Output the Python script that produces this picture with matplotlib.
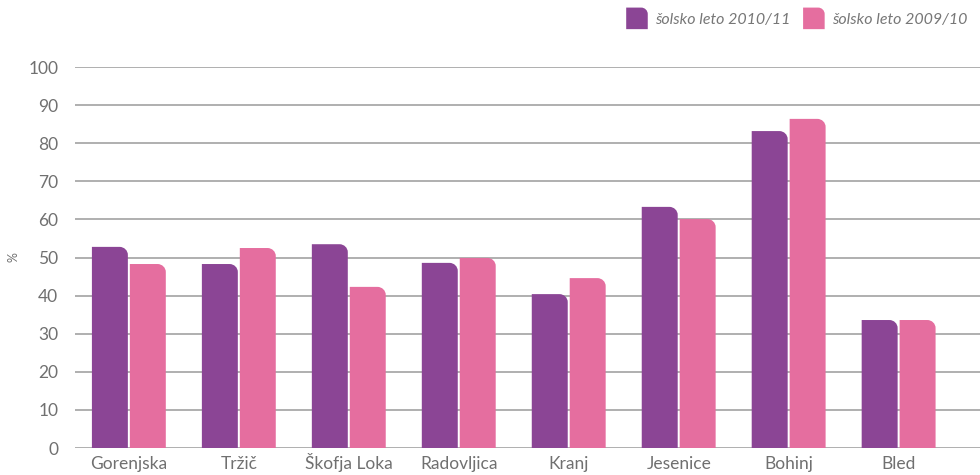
import matplotlib.pyplot as plt
import numpy as np
from matplotlib.path import Path
from matplotlib.patches import PathPatch, Patch
from matplotlib.legend_handler import HandlerPatch

plt.rcParams["font.family"] = ["Lato", "DejaVu Sans"]

categories = ["Gorenjska", "Tržič", "Škofja Loka", "Radovljica", "Kranj", "Jesenice", "Bohinj", "Bled"]
leto_2010 = [52.8, 48.3, 53.5, 48.6, 40.4, 63.3, 83.2, 33.6]
leto_2009 = [48.3, 52.5, 42.3, 49.9, 44.6, 60.1, 86.4, 33.6]
labels = ["šolsko leto 2010/11", "šolsko leto 2009/10"]
yticks = [0, 10, 20, 30, 40, 50, 60, 70, 80, 90, 100]

purple = "#8B4595"
pink = "#E56E9F"
gray_text = "#707070"


def rounded_top_right(x, y, w, h, rx, ry):
    # rectangle with only the top-right corner rounded
    rx = min(rx, w)
    ry = min(ry, h)
    k = 0.55
    verts = [
        (x, y), (x + w, y), (x + w, y + h - ry),
        (x + w, y + h - ry + k * ry), (x + w - rx + k * rx, y + h), (x + w - rx, y + h),
        (x, y + h), (x, y),
    ]
    codes = [Path.MOVETO, Path.LINETO, Path.LINETO,
             Path.CURVE4, Path.CURVE4, Path.CURVE4,
             Path.LINETO, Path.CLOSEPOLY]
    return Path(verts, codes)


class RoundedHandler(HandlerPatch):
    def create_artists(self, legend, orig_handle, xdescent, ydescent, width, height, fontsize, trans):
        s = width
        p = rounded_top_right(-xdescent, -ydescent + height / 2 - s / 2, s, s, s * 0.3, s * 0.3)
        patch = PathPatch(p, facecolor=orig_handle.get_facecolor(), edgecolor="none", transform=trans)
        return [patch]


fig = plt.figure(figsize=(9.8, 4.75), dpi=100)
ax = fig.add_axes([0.0765, 0.0568, 0.9235, 0.802])

x = np.arange(len(categories))
w = 0.327
gap = 0.009
bars1 = ax.bar(x - w / 2 - gap, leto_2010, w, color=purple)
bars2 = ax.bar(x + w / 2 + gap, leto_2009, w, color=pink)

ax.set_xlim(-0.49, 7.74)
ax.set_ylim(0, 100)

# replace plain rectangles with top-right rounded shapes
for bars in (bars1, bars2):
    for b in bars:
        p = rounded_top_right(b.get_x(), b.get_y(), b.get_width(), b.get_height(), 0.075, 2.1)
        ax.add_patch(PathPatch(p, facecolor=b.get_facecolor(), edgecolor="none", zorder=3))
        b.set_visible(False)

ax.set_yticks(yticks)
ax.yaxis.grid(True, color="#9a9a9a", linewidth=1.1)
ax.set_axisbelow(True)
for s in ax.spines.values():
    s.set_visible(False)
ax.tick_params(axis="y", length=0, pad=12, labelsize=12.5, labelcolor=gray_text)
ax.tick_params(axis="x", length=0, pad=15, labelsize=12.5, labelcolor=gray_text)
ax.set_xticks(x)
ax.set_xticklabels(categories, va="baseline")

fig.text(14 / 980, 1 - 257 / 475, "%", color=gray_text, fontsize=9, rotation=90,
         ha="center", va="center")

handles = [Patch(facecolor=purple), Patch(facecolor=pink)]
leg = fig.legend(handles, labels, loc="upper right", bbox_to_anchor=(1.0, 1.0), ncol=2,
                 frameon=False, handler_map={Patch: RoundedHandler()},
                 prop={"style": "italic", "size": 11.5}, handlelength=1.35,
                 handletextpad=0.45, columnspacing=0.8, borderaxespad=0.4)
for t in leg.get_texts():
    t.set_color("#777777")

plt.savefig("out.png", dpi=100)
